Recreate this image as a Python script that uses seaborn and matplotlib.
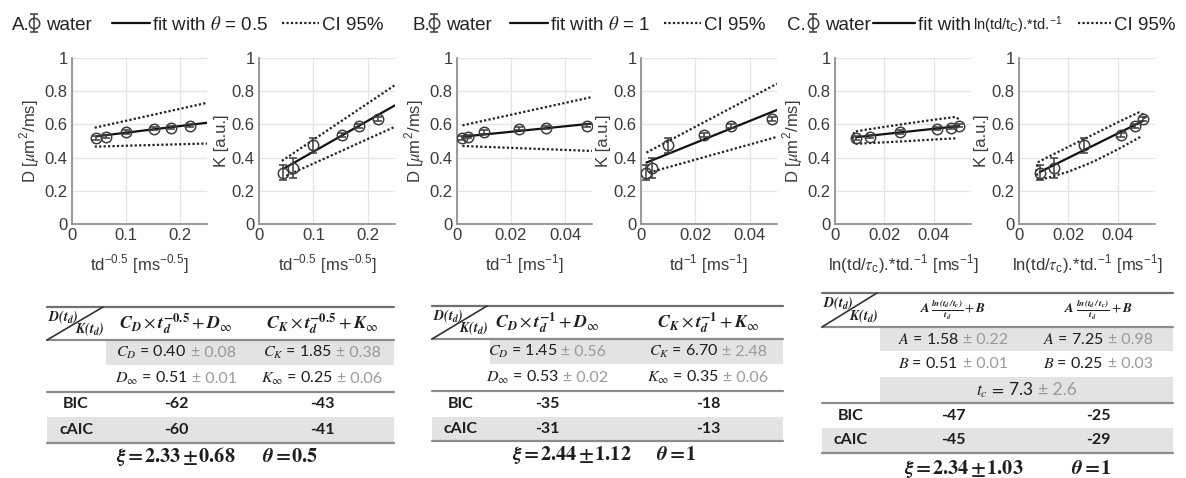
import numpy as np
import pandas as pd
import matplotlib
matplotlib.use("Agg")
import matplotlib.pyplot as plt
import seaborn as sns
from matplotlib.lines import Line2D
from matplotlib.offsetbox import TextArea, HPacker, AnnotationBbox

# ---------------- data ----------------
td_inv_sqrt = [0.045, 0.063, 0.100, 0.152, 0.183, 0.218]
td_inv = [0.002, 0.004, 0.010, 0.023, 0.033, 0.048]
ln_td_inv = [0.0084, 0.0141, 0.0262, 0.0412, 0.0471, 0.0503]
D_vals = [0.518, 0.527, 0.555, 0.575, 0.581, 0.592]
D_err = [0.012, 0.010, 0.010, 0.010, 0.010, 0.010]
K_vals = [0.308, 0.338, 0.473, 0.537, 0.588, 0.630]
K_err = [0.045, 0.060, 0.045, 0.012, 0.012, 0.012]

# fit lines and 95% CI
A_D_fit_x = [0.045, 0.25]; A_D_fit_y = [0.528, 0.610]
A_D_up_x = [0.042, 0.25]; A_D_up_y = [0.580, 0.730]
A_D_lo_x = [0.042, 0.25]; A_D_lo_y = [0.466, 0.485]
A_K_fit_x = [0.045, 0.25]; A_K_fit_y = [0.333, 0.715]
A_K_up_x = [0.042, 0.25]; A_K_up_y = [0.380, 0.837]
A_K_lo_x = [0.050, 0.25]; A_K_lo_y = [0.290, 0.586]

B_D_fit_x = [0.002, 0.05]; B_D_fit_y = [0.526, 0.605]
B_D_up_x = [0.002, 0.05]; B_D_up_y = [0.594, 0.765]
B_D_lo_x = [0.002, 0.05]; B_D_lo_y = [0.470, 0.440]
B_K_fit_x = [0.002, 0.05]; B_K_fit_y = [0.370, 0.687]
B_K_up_x = [0.002, 0.05]; B_K_up_y = [0.430, 0.845]
B_K_lo_x = [0.003, 0.05]; B_K_lo_y = [0.310, 0.525]

C_D_fit_x = [0.0084, 0.0503]; C_D_fit_y = [0.523, 0.590]
C_D_ci_x = [0.0487, 0.040, 0.030, 0.020, 0.012, 0.0078, 0.0072, 0.0078, 0.012, 0.020, 0.030, 0.040, 0.0487, 0.0500]
C_D_ci_y = [0.516, 0.509, 0.500, 0.492, 0.486, 0.482, 0.520, 0.556, 0.567, 0.585, 0.607, 0.628, 0.645, 0.632]
C_K_fit_x = [0.0084, 0.0503]; C_K_fit_y = [0.313, 0.622]
C_K_ci_x = [0.0490, 0.040, 0.030, 0.020, 0.012, 0.0078, 0.0070, 0.0078, 0.012, 0.020, 0.030, 0.040, 0.0484, 0.0505, 0.0510]
C_K_ci_y = [0.524, 0.450, 0.375, 0.315, 0.280, 0.265, 0.320, 0.373, 0.406, 0.465, 0.539, 0.613, 0.672, 0.658, 0.635]

panel_letters = ["A.", "B.", "C."]
fit_labels = [r"fit with $\theta$ = 0.5", r"fit with $\theta$ = 1", "fit with"]
fit_label_extra_C = r"ln(td/t$_{\mathregular{C}}$).*td.$^{\mathregular{-1}}$"
x_labels = [r"td$^{\mathregular{-0.5}}$ [ms$^{\mathregular{-0.5}}$]",
            r"td$^{\mathregular{-1}}$ [ms$^{\mathregular{-1}}$]",
            r"ln(td/$\tau_{\mathregular{c}}$).*td.$^{\mathregular{-1}}$ [ms$^{\mathregular{-1}}$]"]
x_ticks = [[0, 0.1, 0.2], [0, 0.02, 0.04], [0, 0.02, 0.04]]
x_ticklabels = [["0", "0.1", "0.2"], ["0", "0.02", "0.04"], ["0", "0.02", "0.04"]]
y_ticks = [0, 0.2, 0.4, 0.6, 0.8, 1]
y_ticklabels = ["0", "0.2", "0.4", "0.6", "0.8", "1"]
y_labels = [r"D [$\mu$m$^{\mathregular{2}}$/ms]", "K [a.u.]"]

# table content
hdr_D = [r"$\mathbfit{C_D} \times \mathbfit{t}_{\mathbfit{d}}^{\mathbf{-0.5}} + \mathbfit{D}_{\infty}$",
         r"$\mathbfit{C_D} \times \mathbfit{t}_{\mathbfit{d}}^{\mathbf{-1}} + \mathbfit{D}_{\infty}$",
         r"$\mathbfit{A}\,\frac{\mathbfit{ln(t_d\,/t_c)}}{\mathbfit{t_d}} + \mathbfit{B}$"]
hdr_K = [r"$\mathbfit{C_K} \times \mathbfit{t}_{\mathbfit{d}}^{\mathbf{-0.5}} + \mathbfit{K}_{\infty}$",
         r"$\mathbfit{C_K} \times \mathbfit{t}_{\mathbfit{d}}^{\mathbf{-1}} + \mathbfit{K}_{\infty}$",
         r"$\mathbfit{A}\;\frac{\mathbfit{ln(t_d\,/\,t_c)}}{\mathbfit{t_d}} + \mathbfit{B}$"]
par1_D = [(r"$C_D$ = 0.40", "0.08"), (r"$C_D$ = 1.45", "0.56"), (r"$A$ = 1.58", "0.22")]
par1_K = [(r"$C_K$ = 1.85", "0.38"), (r"$C_K$ = 6.70", "2.48"), (r"$A$ = 7.25", "0.98")]
par2_D = [(r"$D_\infty$ = 0.51", "0.01"), (r"$D_\infty$ = 0.53", "0.02"), (r"$B$ = 0.51", "0.01")]
par2_K = [(r"$K_\infty$ = 0.25", "0.06"), (r"$K_\infty$ = 0.35", "0.06"), (r"$B$ = 0.25", "0.03")]
tc_row = (r"$t_c\,=\,$7.3", "2.6")
bic_vals = [("-62", "-43"), ("-35", "-18"), ("-47", "-25")]
caic_vals = [("-60", "-41"), ("-31", "-13"), ("-45", "-29")]
xi_texts = [r"$\boldsymbol{\xi = 2.33 \pm 0.68}$", r"$\boldsymbol{\xi = 2.44 \pm 1.12}$",
            r"$\boldsymbol{\xi = 2.34 \pm 1.03}$"]
theta_texts = [r"$\boldsymbol{\theta = 0.5}$", r"$\boldsymbol{\theta = 1}$", r"$\boldsymbol{\theta = 1}$"]

# ---------------- style ----------------
sns.set_theme(style="whitegrid")
plt.rcParams["font.family"] = ["Liberation Sans", "DejaVu Sans"]
plt.rcParams["mathtext.fontset"] = "stix"
plt.rcParams["mathtext.default"] = "it"

W, H = 1186, 478
fig = plt.figure(figsize=(W / 100, H / 100), dpi=100)
fig.patch.set_facecolor("white")

TXT = "#3a3a3a"
SPINE = "#8a8a8a"
GRID = "#e4e4e4"
MK = "#3c3c3c"
DOT = (0, (1, 1))


def px_axes(x0, x1, y0, y1):
    return fig.add_axes([x0 / W, 1 - y1 / H, (x1 - x0) / W, (y1 - y0) / H])


axes_px = [((72, 207), (259, 395)), ((457, 592), (641, 777)), ((835, 971), (1019, 1155))]
xlims = [(0, 0.25), (0, 0.05), (0, 0.055)]
xs_all = [td_inv_sqrt, td_inv, ln_td_inv]
lines_D = [
    [(A_D_fit_x, A_D_fit_y, "-"), (A_D_up_x, A_D_up_y, ":"), (A_D_lo_x, A_D_lo_y, ":")],
    [(B_D_fit_x, B_D_fit_y, "-"), (B_D_up_x, B_D_up_y, ":"), (B_D_lo_x, B_D_lo_y, ":")],
    [(C_D_fit_x, C_D_fit_y, "-"), (C_D_ci_x, C_D_ci_y, ":")],
]
lines_K = [
    [(A_K_fit_x, A_K_fit_y, "-"), (A_K_up_x, A_K_up_y, ":"), (A_K_lo_x, A_K_lo_y, ":")],
    [(B_K_fit_x, B_K_fit_y, "-"), (B_K_up_x, B_K_up_y, ":"), (B_K_lo_x, B_K_lo_y, ":")],
    [(C_K_fit_x, C_K_fit_y, "-"), (C_K_ci_x, C_K_ci_y, ":")],
]

legend_water_x = [28, 428, 807]
legend_fit_x = [112, 510, 873]
letter_x = [12, 412, 787]
LEGFS = 13.5

for p in range(3):
    for j, (vals, errs, lines) in enumerate([(D_vals, D_err, lines_D[p]), (K_vals, K_err, lines_K[p])]):
        x0, x1 = axes_px[p][j]
        ax = px_axes(x0, x1, 58, 224)
        ax.set_facecolor("white")
        for lx, ly, ls in lines:
            df = pd.DataFrame({"x": lx, "y": ly})
            if ls == "-":
                sns.lineplot(data=df, x="x", y="y", ax=ax, color="#111111", sort=False,
                             estimator=None, lw=1.6, zorder=3)
            else:
                sns.lineplot(data=df, x="x", y="y", ax=ax, color="#222222", sort=False,
                             estimator=None, lw=1.6, dashes=False, zorder=3)
                ax.lines[-1].set_linestyle(DOT)
        eb = ax.errorbar(xs_all[p], vals, yerr=errs, fmt="o", ms=7.5, mfc="none", mec=MK, mew=1.1,
                         ecolor=MK, elinewidth=1.1, capsize=3, capthick=1.1, zorder=4)
        ax.set_xlim(*xlims[p])
        ax.set_ylim(0, 1)
        ax.set_xticks(x_ticks[p])
        ax.set_xticklabels(x_ticklabels[p])
        ax.set_yticks(y_ticks)
        ax.set_yticklabels(y_ticklabels)
        ax.tick_params(axis="both", length=0, labelsize=12, colors=TXT, pad=3)
        ax.grid(True, color=GRID, lw=0.9)
        for s in ["top", "right"]:
            ax.spines[s].set_visible(False)
        for s in ["left", "bottom"]:
            ax.spines[s].set_color(SPINE)
            ax.spines[s].set_linewidth(1.2)
        ax.set_xlabel(x_labels[p], fontsize=12, color=TXT, labelpad=7)
        ax.set_ylabel(y_labels[j], fontsize=12, color=TXT, labelpad=2)
        if j == 0:
            water_handle = eb

    # legend row
    yleg = 1 - 25 / H
    fig.text(letter_x[p] / W, yleg, panel_letters[p], fontsize=LEGFS, color="#222222",
             ha="left", va="center")
    fig.legend(handles=[water_handle], labels=["water"], loc="center left",
               bbox_to_anchor=(legend_water_x[p] / W, yleg), frameon=False,
               handlelength=0.6, handletextpad=0.35, borderpad=0, borderaxespad=0,
               fontsize=LEGFS, labelcolor="#222222")
    h_fit = Line2D([], [], color="#111111", lw=1.6, ls="-")
    h_ci = Line2D([], [], color="#222222", lw=1.6, ls=DOT)
    if p < 2:
        fig.legend(handles=[h_fit, h_ci], labels=[fit_labels[p], "CI 95%"], loc="center left",
                   bbox_to_anchor=(legend_fit_x[p] / W, yleg), frameon=False, ncol=2,
                   handlelength=2.0, handletextpad=0.15, columnspacing=0.7, borderpad=0,
                   borderaxespad=0, fontsize=LEGFS, labelcolor="#222222")
    else:
        fig.legend(handles=[h_fit], labels=[fit_labels[p]], loc="center left",
                   bbox_to_anchor=(873 / W, yleg), frameon=False,
                   handlelength=2.25, handletextpad=0.15, borderpad=0,
                   borderaxespad=0, fontsize=LEGFS, labelcolor="#222222")
        fig.text(973 / W, yleg, fit_label_extra_C, fontsize=10.5, color="#222222",
                 ha="left", va="center")
        fig.legend(handles=[h_ci], labels=["CI 95%"], loc="center left",
                   bbox_to_anchor=(1078 / W, yleg), frameon=False,
                   handlelength=1.75, handletextpad=0.15, borderpad=0,
                   borderaxespad=0, fontsize=LEGFS, labelcolor="#222222")

# ---------------- tables ----------------
tab = fig.add_axes([0, 0, 1, 1], zorder=-1)
tab.set_xlim(0, W)
tab.set_ylim(H, 0)
tab.axis("off")

SHADE = "#e3e3e3"
LINEC = "#8c8c8c"
TFONT = ["Lato", "DejaVu Sans"]


def pm_cell(cx, cy, main, err, size=11.5):
    t1 = TextArea(main, textprops=dict(color="#1e1e1e", fontsize=size, family=TFONT))
    t2 = TextArea("\u00b1 " + err, textprops=dict(color="#9a9a9a", fontsize=size, family=TFONT))
    box = HPacker(children=[t1, t2], align="baseline", pad=0, sep=3)
    ab = AnnotationBbox(box, (cx, cy), xycoords="data", frameon=False,
                        box_alignment=(0.5, 0.5), pad=0)
    tab.add_artist(ab)


tables = [
    dict(x0=47, x1=394, xs=106, top=307, hb=340, r1=(340, 365), r2=(365, 392), tc=None,
         bic=(392, 417), caic=(417, 443), xi_y=457, c1=176, c2=322, lab=76, xi_c=176, th_c=290),
    dict(x0=432, x1=783, xs=490, top=306, hb=339, r1=(339, 364), r2=(364, 391), tc=None,
         bic=(391, 417), caic=(417, 441), xi_y=455, c1=547, c2=708, lab=461, xi_c=572, th_c=676),
    dict(x0=822, x1=1173, xs=880, top=293, hb=327, r1=(327, 351), r2=(351, 377), tc=(377, 403),
         bic=(403, 428), caic=(428, 453), xi_y=469, c1=953, c2=1098, lab=851, xi_c=964, th_c=1091),
]

for p, t in enumerate(tables):
    x0, x1, xs = t["x0"], t["x1"], t["xs"]
    tab.fill_between([xs, x1], t["r1"][0], t["r1"][1], color=SHADE, lw=0)
    if t["tc"] is not None:
        tab.fill_between([xs, x1], t["tc"][0], t["tc"][1], color=SHADE, lw=0)
    tab.fill_between([x0, x1], t["caic"][0], t["caic"][1], color=SHADE, lw=0)
    tab.plot([x0, x1], [t["top"], t["top"]], color="#707070", lw=1.6)
    tab.plot([x0, x1], [t["hb"], t["hb"]], color=LINEC, lw=1.6)
    tab.plot([x0, x1], [t["bic"][0], t["bic"][0]], color=LINEC, lw=1.6)
    tab.plot([x0, x1], [t["caic"][1], t["caic"][1]], color=LINEC, lw=1.6)
    tab.plot([x0, xs - 3], [t["hb"], t["top"]], color="#333333", lw=1.2)
    tab.text(x0 + 1, t["top"] + 1.5, r"$\mathbfit{D(t_d)}$", fontsize=10, ha="left", va="top",
             color="#1e1e1e")
    tab.text(xs - 1, t["hb"] - 2, r"$\mathbfit{K(t_d)}$", fontsize=10, ha="right", va="bottom",
             color="#1e1e1e")
    hsize = 13 if p < 2 else 9.5
    hy = (t["top"] + t["hb"]) / 2
    tab.text(t["c1"], hy, hdr_D[p], fontsize=hsize, ha="center", va="center", color="#1e1e1e")
    tab.text(t["c2"], hy, hdr_K[p], fontsize=hsize, ha="center", va="center", color="#1e1e1e")
    y1 = sum(t["r1"]) / 2
    y2 = sum(t["r2"]) / 2
    pm_cell(t["c1"], y1, *par1_D[p])
    pm_cell(t["c2"], y1, *par1_K[p])
    pm_cell(t["c1"], y2, *par2_D[p])
    pm_cell(t["c2"], y2, *par2_K[p])
    if t["tc"] is not None:
        pm_cell((xs + x1) / 2, sum(t["tc"]) / 2, *tc_row, size=12.5)
    yb = sum(t["bic"]) / 2
    yc = sum(t["caic"]) / 2
    for lab, yy, vals in [("BIC", yb, bic_vals[p]), ("cAIC", yc, caic_vals[p])]:
        tab.text(t["lab"], yy, lab, fontsize=11.5, fontweight="bold", family=TFONT,
                 ha="center", va="center", color="#1e1e1e")
        tab.text(t["c1"], yy, vals[0], fontsize=11.5, fontweight="bold", family=TFONT,
                 ha="center", va="center", color="#1e1e1e")
        tab.text(t["c2"], yy, vals[1], fontsize=11.5, fontweight="bold", family=TFONT,
                 ha="center", va="center", color="#1e1e1e")
    tab.text(t["xi_c"], t["xi_y"], xi_texts[p], fontsize=14.5, ha="center", va="center",
             color="#1e1e1e")
    tab.text(t["th_c"], t["xi_y"], theta_texts[p], fontsize=14.5, ha="center", va="center",
             color="#1e1e1e")

fig.savefig("out.png", dpi=100, facecolor="white")
